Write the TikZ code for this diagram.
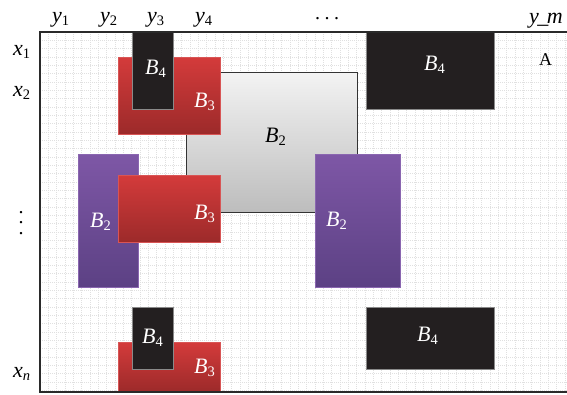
\documentclass[tikz,border=0pt]{standalone}
\usepackage{fontspec}
\setmainfont{Liberation Serif}
\newcommand{\lbl}[2]{\textit{#1}\raisebox{-3.5pt}{\fontsize{14.5}{14.5}\selectfont #2}}
\definecolor{redtop}{HTML}{D43B3B}
\definecolor{redbot}{HTML}{9C2A2A}
\definecolor{redline}{HTML}{D85555}
\definecolor{purtop}{HTML}{7E57A6}
\definecolor{purbot}{HTML}{5C4184}
\definecolor{purline}{HTML}{8A66B0}
\definecolor{graytop}{HTML}{F3F3F3}
\definecolor{graybot}{HTML}{BDBDBD}
\definecolor{grayline}{HTML}{333333}
\definecolor{blk}{HTML}{231F20}
\definecolor{blkline}{HTML}{8A8A8A}
\definecolor{gridc}{HTML}{E0E0E0}
\definecolor{framec}{HTML}{2A2A2A}
\begin{document}
\begin{tikzpicture}[x=1pt,y=-1pt,
  box/.style={inner sep=0pt, outer sep=0pt, anchor=north west, line width=0.8pt},
  redbox/.style={box, draw=redline, top color=redtop, bottom color=redbot},
  purbox/.style={box, draw=purline, top color=purtop, bottom color=purbot},
  graybox/.style={box, draw=grayline, line width=1pt, top color=graytop, bottom color=graybot},
  blkbox/.style={box, draw=blkline, fill=blk},
  inlbl/.style={anchor=base west, inner sep=0pt, text=white, font=\fontsize{22}{24}\selectfont},
  axlbl/.style={anchor=base west, inner sep=0pt, font=\fontsize{22}{24}\selectfont},
  gridl/.style={gridc, line width=0.5pt, dash pattern=on 1pt off 1pt},
  frame/.style={framec, line width=1.3pt}
]
\useasboundingbox (0,0) rectangle (567,394);
% grid
\foreach \i in {1,...,63} \draw[gridl] ({40+\i*8.33},32) -- ({40+\i*8.33},392);
\foreach \j in {1,...,43} \draw[gridl] (40,{32+\j*8.33}) -- (567,{32+\j*8.33});
% boxes
\node[graybox, minimum width=171pt, minimum height=140pt] (b2g) at (186,72) {};
\node[redbox, minimum width=102pt, minimum height=77pt] (b3a) at (118,57) {};
\node[blkbox, minimum width=41pt, minimum height=77pt] (b4a) at (132,32) {};
\node[purbox, minimum width=60pt, minimum height=133pt] (b2l) at (78,154) {};
\node[redbox, minimum width=102pt, minimum height=67pt] (b3b) at (118,175) {};
\node[purbox, minimum width=85pt, minimum height=133pt] (b2r) at (315,154) {};
\node[blkbox, minimum width=128pt, minimum height=77pt] (b4b) at (366,32) {};
\node[redbox, minimum width=102pt, minimum height=50pt] (b3c) at (118,342) {};
\node[blkbox, minimum width=41pt, minimum height=62pt] (b4c) at (132,307) {};
\node[blkbox, minimum width=128pt, minimum height=62pt] (b4d) at (366,307) {};
% frame
\draw[frame] (567,32) -- (40,32) -- (40,392) -- (567,392);
% box labels
\node[inlbl] (l4a) at (145,74) {\lbl{B}{4}};
\node[inlbl] (l3a) at (194,107) {\lbl{B}{3}};
\node[inlbl, text=black] (l2g) at (265,142) {\lbl{B}{2}};
\node[inlbl] (l2l) at (90,227) {\lbl{B}{2}};
\node[inlbl] (l3b) at (194,219) {\lbl{B}{3}};
\node[inlbl] (l2r) at (326,226) {\lbl{B}{2}};
\node[inlbl] (l4b) at (424,70) {\lbl{B}{4}};
\node[inlbl] (l4c) at (142,343) {\lbl{B}{4}};
\node[inlbl] (l3c) at (194,373) {\lbl{B}{3}};
\node[inlbl] (l4d) at (417,341) {\lbl{B}{4}};
\node[anchor=base west, inner sep=0pt, font=\fontsize{18}{20}\selectfont] (la) at (539,65) {A};
% axis labels
\node[axlbl] (y1) at (52,22) {\lbl{y}{1}};
\node[axlbl] (y2) at (100,22) {\lbl{y}{2}};
\node[axlbl] (y3) at (147,22) {\lbl{y}{3}};
\node[axlbl] (y4) at (195,22) {\lbl{y}{4}};
\node[anchor=base, inner sep=0pt, font=\fontsize{20}{22}\selectfont] (yd) at (327,19) {.\hspace{4.5pt}.\hspace{4.5pt}.};
\node[axlbl] (ym) at (529,23) {\textit{y\kern-1.5pt\_\kern-1.5pt m}};
\node[axlbl] (x1) at (13,55) {\lbl{x}{1}};
\node[axlbl] (x2) at (13,96) {\lbl{x}{2}};
\node[anchor=center, inner sep=0pt, align=center, font=\fontsize{20}{10.5}\selectfont] (xd) at (21,223) {.\\.\\.};
\node[axlbl] (xn) at (13,377) {\lbl{x}{\textit{n}}};
\end{tikzpicture}
\end{document}
